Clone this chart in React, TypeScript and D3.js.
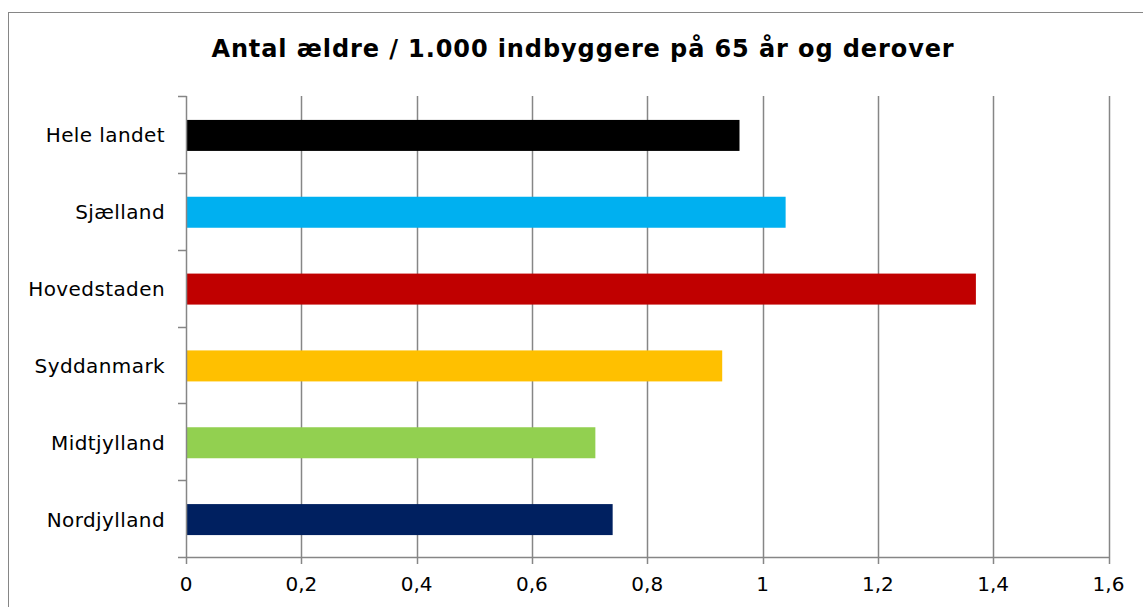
import React from "react";
import * as d3 from "d3";

const regions = ["Hele landet", "Sjælland", "Hovedstaden", "Syddanmark", "Midtjylland", "Nordjylland"];
const values = [0.96, 1.04, 1.37, 0.93, 0.71, 0.74];
const barColors = ["#000000", "#00B0F0", "#C00000", "#FFC000", "#92D050", "#002060"];
const xTicks = [0, 0.2, 0.4, 0.6, 0.8, 1, 1.2, 1.4, 1.6];

const W = 1143;
const H = 607;
const font = "Verdana, 'DejaVu Sans', sans-serif";
const gray = "#868686";

export default function App() {
  const x = d3.scaleLinear().domain([0, 1.6]).range([186, 1108.5]);
  const y = d3.scaleBand().domain(regions).range([96, 557]).paddingInner(0).paddingOuter(0);
  const barH = 31;
  const fmt = (d: number) => String(d).replace(".", ",");

  return (
    <svg width={W} height={H} style={{ position: "absolute", left: 0, top: 0, background: "#fff" }}>
      <rect x={8.5} y={12.5} width={W} height={H} fill="#fff" stroke={gray} strokeWidth={1} />
      <text x={583} y={57} textAnchor="middle" fontFamily={font} fontWeight="bold" fontSize={24} letterSpacing={0.9}>
        Antal ældre / 1.000 indbyggere på 65 år og derover
      </text>

      {/* gridlines */}
      {xTicks.slice(1).map((t) => (
        <line key={"g" + t} x1={Math.round(x(t)) + 0.5} x2={Math.round(x(t)) + 0.5} y1={96} y2={557} stroke={gray} strokeWidth={1.5} />
      ))}

      {/* bars */}
      {regions.map((r, i) => (
        <rect key={r} x={x(0)} y={(y(r) as number) + y.bandwidth() / 2 - barH / 2 + 1} width={x(values[i]) - x(0)} height={barH} fill={barColors[i]} />
      ))}

      {/* y axis */}
      <line x1={186.5} x2={186.5} y1={96} y2={557} stroke={gray} strokeWidth={1.5} />
      {[...regions.map((r) => y(r) as number), 557].map((v, i) => (
        <line key={"yt" + i} x1={178} x2={186.5} y1={Math.round(v) + 0.5} y2={Math.round(v) + 0.5} stroke={gray} strokeWidth={1.5} />
      ))}
      {regions.map((r) => (
        <text key={"l" + r} x={165} y={(y(r) as number) + y.bandwidth() / 2 + 1} dy="0.35em" textAnchor="end" fontFamily={font} fontSize={20} letterSpacing={0.4}>
          {r}
        </text>
      ))}

      {/* x axis */}
      <line x1={186} x2={1109} y1={557.5} y2={557.5} stroke={gray} strokeWidth={1.5} />
      {xTicks.map((t) => (
        <g key={"xt" + t}>
          <line x1={Math.round(x(t)) + 0.5} x2={Math.round(x(t)) + 0.5} y1={557} y2={564} stroke={gray} strokeWidth={1.5} />
          <text x={x(t)} y={591} textAnchor="middle" fontFamily={font} fontSize={20}>
            {fmt(t)}
          </text>
        </g>
      ))}
    </svg>
  );
}
